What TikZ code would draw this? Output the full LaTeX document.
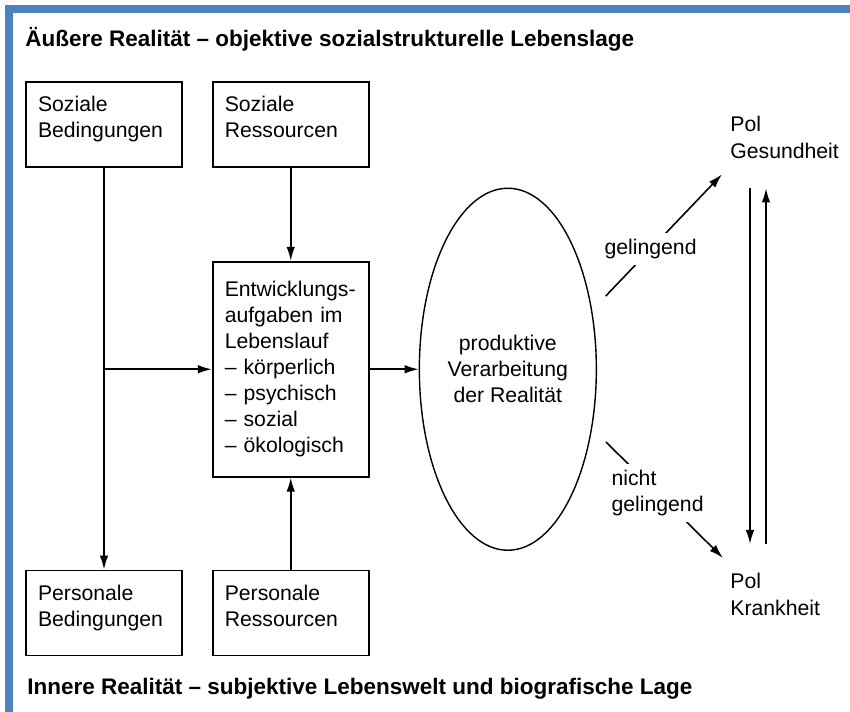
\documentclass[tikz,border=0pt]{standalone}
\usepackage{fontspec}
\setmainfont{Liberation Sans}
\usetikzlibrary{arrows.meta,positioning,shapes.geometric}
\definecolor{frameblue}{RGB}{79,129,189}

\begin{document}
\begin{tikzpicture}[node distance=1cm,
  every node/.style={font=\fontsize{12.07}{14.8}\selectfont},
  box/.style={rectangle, draw=black, line width=1pt, text width=2.64cm, inner xsep=0.24cm, minimum height=1.7cm, align=left},
  smallbox/.style={box, text depth=0.81cm},
  pole/.style={inner sep=0pt, align=left, anchor=north west, font=\fontsize{12.07}{15.4}\selectfont},
  heading/.style={inner sep=0pt, anchor=base west, font=\fontsize{12.8}{15}\selectfont\bfseries},
  arr/.style={-{Latex[length=0.28cm,width=0.17cm]}, line width=0.9pt}]
\useasboundingbox (0,0) rectangle (17,14.24);
\draw [frameblue, line width=0.16cm] (0.18,0) |- (17,14.06);

\node (outer) [heading] at (0.5,13.3) {Äußere Realität – objektive sozialstrukturelle Lebenslage};
\node (inner) [heading] at (0.54,0.34) {Innere Realität – subjektive Lebenswelt und biografische Lage};

\node (sb) [smallbox] at (2.08,11.75) {Soziale\\Bedingungen};
\node (sr) [smallbox, right=0.58cm of sb] {Soziale\\Ressourcen};
\node (entw) [box, below=1.86cm of sr, minimum height=4.3cm] {Entwicklungs-\\aufgaben im\\Lebenslauf\\– körperlich\\– psychisch\\– sozial\\– ökologisch};
\node (pr) [smallbox, below=1.84cm of entw] {Personale\\Ressourcen};
\node (pb) [smallbox, left=0.58cm of pr] {Personale\\Bedingungen};

\node (ell) [ellipse, draw=black, line width=0.8pt, inner sep=0pt, minimum width=3.54cm, minimum height=7.24cm, align=center, right=0.98cm of entw] {produktive\\Verarbeitung\\der Realität};

\node (pg) [pole] at (14.6,11.92) {Pol\\Gesundheit};
\node (pk) [pole] at (14.6,2.78) {Pol\\Krankheit};

\draw [arr] (sb) -- (pb);
\draw [arr] (sb.south |- entw.west) -- (entw);
\draw [arr] (sr) -- (entw);
\draw [arr] (pr) -- (entw);
\draw [arr] (entw) -- (ell);

\draw [arr, shorten <=0.39cm] (ell.35) -- node [fill=white, pos=0.45] {gelingend} ([xshift=-0.16cm,yshift=-0.3cm]pg.south west);
\draw [arr, shorten <=0.39cm] (ell.-35) -- node [fill=white, align=left, pos=0.5] {nicht\\gelingend} ([xshift=-0.14cm,yshift=0.3cm]pk.north west);

\draw [arr, shorten <=0.58cm, shorten >=0.58cm] ([xshift=0.4cm]pg.south west) -- ([xshift=0.4cm]pk.north west);
\draw [arr, shorten <=0.58cm, shorten >=0.58cm] ([xshift=0.72cm]pk.north west) -- ([xshift=0.72cm]pg.south west);
\end{tikzpicture}
\end{document}
